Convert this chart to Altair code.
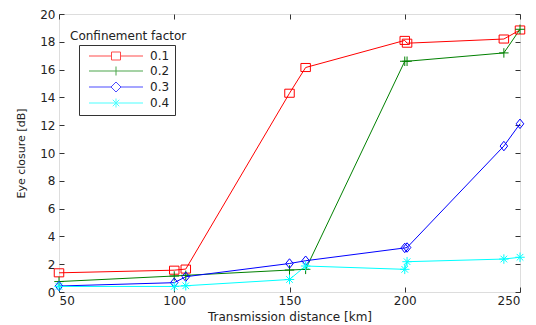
import altair as alt
import pandas as pd

series = ["0.1", "0.2", "0.3", "0.4"]
distance = [50, 100, 105, 150, 157, 200, 201, 243, 250]
eye_01 = [1.38, 1.57, 1.65, 14.3, 16.15, 18.1, 17.9, 18.2, 18.85]
eye_02 = [0.75, 1.15, 1.2, 1.58, 1.63, 16.6, 16.6, 17.2, 18.9]
eye_03 = [0.43, 0.67, 1.1, 2.05, 2.25, 3.17, 3.2, 10.5, 12.1]
eye_04 = [0.4, 0.4, 0.45, 0.9, 1.87, 1.63, 2.18, 2.37, 2.5]
x_ticks = [50, 100, 150, 200, 250]
y_ticks = [0, 2, 4, 6, 8, 10, 12, 14, 16, 18, 20]

colors = ["#ff0000", "#008000", "#0000ff", "#00ffff"]
marker_paths = [
    "M-1,-0.85H1V0.85H-1Z",
    "M-1,0H1M0,-1V1",
    "M0,-1L0.8,0L0,1L-0.8,0Z",
    "M-1,0H1M0,-1V1M-0.7,-0.7L0.7,0.7M-0.7,0.7L0.7,-0.7",
]
# legend symbols: a 54px line with the marker at its middle (unit = 5px)
legend_paths = [
    "M-0.2,0H4.3M6.1,0H10.6M4.3,-0.8H6.1V0.8H4.3Z",
    "M-0.2,0H10.6M5.2,-0.9V0.9",
    "M-0.2,0H4.2M6.2,0H10.6M5.2,-1L6.2,0L5.2,1L4.2,0Z",
    "M-0.2,0H10.6M5.2,-0.9V0.9M4.55,-0.65L5.85,0.65M4.55,0.65L5.85,-0.65",
]

rows = []
for s, ys in zip(series, [eye_01, eye_02, eye_03, eye_04]):
    for xv, yv in zip(distance, ys):
        rows.append({"series": s, "distance": xv, "eye": yv})
df = pd.DataFrame(rows)
legend_df = pd.DataFrame({"series": series})

FONT = "DejaVu Sans"
xscale = alt.Scale(domain=[50, 250], nice=False, zero=False)
yscale = alt.Scale(domain=[0, 20], nice=False)
cscale = alt.Scale(domain=series, range=colors)

lines = alt.Chart(df).mark_line(strokeWidth=1).encode(
    x=alt.X("distance:Q", scale=xscale,
            axis=alt.Axis(values=x_ticks, orient="bottom", offset=-5, tickSize=5, domain=False,
                          grid=False, labelPadding=3, labelFontSize=12, labelFont=FONT,
                          labelColor="#222", tickColor="#333",
                          title="Transmission distance [km]", titleFont=FONT, titleFontSize=12,
                          titleFontWeight="normal", titleColor="#222", titlePadding=5)),
    y=alt.Y("eye:Q", scale=yscale,
            axis=alt.Axis(values=y_ticks, orient="left", offset=-5, tickSize=5, domain=False,
                          grid=False, labelPadding=4, labelFontSize=12, labelFont=FONT,
                          labelColor="#222", tickColor="#333",
                          title="Eye closure [dB]", titleFont=FONT, titleFontSize=11,
                          titleFontWeight="normal", titleColor="#222", titlePadding=13)),
    color=alt.Color("series:N", scale=cscale, legend=None),
    order=alt.Order("distance:Q"),
)

points = alt.Chart(df).mark_point(filled=False, size=90, strokeWidth=1, opacity=1).encode(
    x=alt.X("distance:Q", scale=xscale,
            axis=alt.Axis(values=x_ticks, orient="top", offset=-5, tickSize=5, domain=False,
                          grid=False, labels=False, title=None, tickColor="#333")),
    y=alt.Y("eye:Q", scale=yscale,
            axis=alt.Axis(values=y_ticks, orient="right", offset=-5, tickSize=5, domain=False,
                          grid=False, labels=False, title=None, tickColor="#333")),
    color=alt.Color("series:N", scale=cscale, legend=None),
    shape=alt.Shape("series:N", scale=alt.Scale(domain=series, range=marker_paths), legend=None),
)

leg = alt.Legend(title=None, orient="none", legendX=20, legendY=31,
                 strokeColor="#333", padding=5, rowPadding=2,
                 symbolSize=100, symbolStrokeWidth=1, labelOffset=54,
                 labelFont=FONT, labelFontSize=12, labelColor="#222",
                 labelExpr="datum.label + '  '",
                 fillColor="white")

legend_layer = alt.Chart(legend_df).mark_point(filled=False, size=100, strokeWidth=1, clip=True).encode(
    x=alt.value(-600),
    y=alt.value(-600),
    color=alt.Color("series:N", scale=cscale, legend=leg),
    shape=alt.Shape("series:N", scale=alt.Scale(domain=series, range=legend_paths), legend=leg),
)

chart = alt.layer(lines, points, legend_layer).resolve_axis(
    x="independent", y="independent"
).resolve_scale(shape="independent").resolve_legend(
    color="independent", shape="independent"
).properties(
    width=461, height=278,
    autosize=alt.AutoSizeParams(type="none"),
    padding={"left": 51, "top": 6, "right": 8, "bottom": 33},
    title=alt.TitleParams("Confinement factor", anchor="start", frame="group", orient="top",
                          offset=0, dx=11, dy=35, baseline="top", font=FONT, fontSize=12,
                          fontWeight="normal", color="#222"),
).configure_view(stroke="#333", strokeWidth=1).configure(background="white")

chart.save("out.html", embed_options={"renderer": "svg", "actions": False})
